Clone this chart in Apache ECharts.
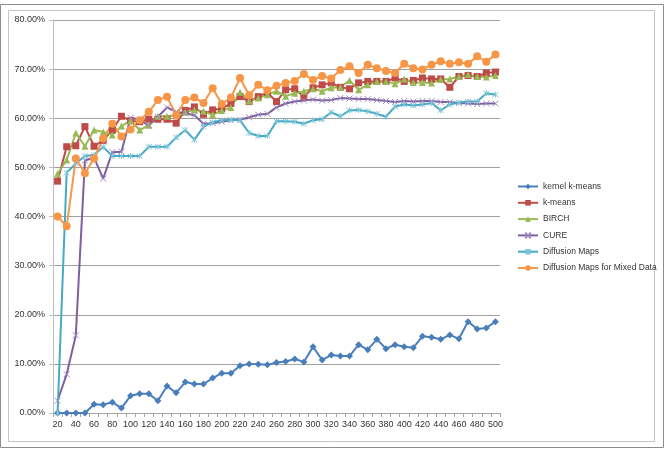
<!DOCTYPE html>
<html>
  <head>
    <meta charset="utf-8" />
    <script src="https://cdn.jsdelivr.net/npm/echarts@6/dist/echarts.min.js"></script>
    <style>
      html, body { margin: 0; padding: 0; background: #fff; }
    </style>
  </head>
  <body>
    <div id="chart" style="width: 666px; height: 459px;"></div>
    <script>
      // Data (accuracy in %)
      var categories = ['20','30','40','50','60','70','80','90','100','110','120','130','140','150','160','170','180','190','200',
        '210','220','230','240','250','260','270','280','290','300','310','320','330','340','350','360','370','380','390','400',
        '410','420','430','440','450','460','470','480','490','500'];

      var kernelKMeans = [0,0,0,0,1.8,1.7,2.2,1.0,3.5,3.9,3.9,2.5,5.5,4.1,6.3,5.9,5.9,7.1,8.1,8.1,9.6,10.0,9.9,
        9.8,10.3,10.5,11.0,10.4,13.5,10.8,11.8,11.6,11.6,13.9,12.9,15.0,13.1,13.9,13.5,13.3,15.6,15.4,15.0,15.9,15.1,18.6,17.1,17.3,18.6];

      var kMeans = [47.2,54.2,54.4,58.3,54.3,55.5,57.6,60.4,59.5,
        59.3,59.8,59.8,59.8,59.0,61.6,62.3,60.8,61.7,62.0,
        63.0,64.4,63.4,64.4,65.2,63.4,65.8,66.0,64.4,66.2,
        66.8,67.2,66.3,66.0,67.2,67.5,67.5,67.5,68.2,67.5,
        67.7,68.2,68.0,68.0,66.3,68.5,68.7,68.5,69.2,69.4];

      var birch = [48.7,51.5,57.0,54.3,57.6,57.2,56.6,58.4,59.5,
        57.6,58.6,60.4,60.4,60.6,61.2,61.7,61.4,60.7,61.6,
        62.2,65.3,63.5,64.1,64.8,65.5,64.5,65.1,65.5,66.0,
        65.5,66.2,66.3,67.7,65.8,66.8,67.5,67.5,67.0,68.0,
        67.3,67.3,67.2,67.9,68.0,68.5,68.9,68.5,68.4,68.7];

      var cure = [2.5,7.9,15.8,51.4,52.0,47.7,53.1,53.2,60.1,
        59.7,58.5,60.3,62.2,61.3,61.0,60.6,58.9,59.0,59.3,
        59.6,59.7,60.2,60.7,60.9,62.2,63.0,63.4,63.6,63.8,
        63.6,63.7,64.1,64.0,63.9,63.9,63.7,63.5,63.3,63.5,
        63.4,63.5,63.5,63.3,63.3,63.1,63.0,62.9,63.0,63.0];

      var diffusionMaps = [0,48.9,50.8,52.3,52.5,54.2,52.3,52.3,52.3,
        52.3,54.2,54.2,54.2,56.1,57.6,55.6,58.3,59.2,59.6,
        59.7,59.6,57.0,56.4,56.4,59.4,59.4,59.3,58.9,59.6,
        59.8,61.2,60.4,61.6,61.7,61.4,60.9,60.3,62.4,62.8,
        62.6,62.8,63.1,61.6,62.8,63.2,63.4,63.4,65.1,64.8];

      var diffusionMixed = [40.0,38.0,51.8,48.8,51.8,55.9,58.9,56.3,57.7,
        59.6,61.3,63.7,64.4,60.6,63.7,64.2,63.1,66.1,62.9,
        64.2,68.2,64.7,66.8,65.7,66.6,67.2,67.6,69.0,67.8,
        68.6,68.1,69.8,70.6,69.2,70.9,70.2,69.6,69.2,71.1,
        70.2,69.9,70.9,71.6,71.1,71.4,71.1,72.6,71.5,73.0];

      var seriesNames = ['kernel k-means', 'k-means', 'BIRCH', 'CURE', 'Diffusion Maps', 'Diffusion Maps for Mixed Data'];

      var font = 'Liberation Sans, Arial, sans-serif';
      var xMark = 'path://M0,0L10,10M10,0L0,10';
      var starMark = 'path://M0,0L10,10M10,0L0,10M5,-1L5,11';

      function makeSeries(name, data, color, symbol, size, markColor) {
        return {
          name: name,
          type: 'line',
          data: data,
          symbol: symbol,
          symbolSize: size,
          showAllSymbol: true,
          lineStyle: { color: color, width: 2 },
          itemStyle: {
            color: markColor || color,
            borderColor: markColor || color,
            borderWidth: (symbol.indexOf('path') === 0) ? 1 : 0
          },
          emphasis: { disabled: true }
        };
      }

      var chart = echarts.init(document.getElementById('chart'), null, { renderer: 'canvas' });

      chart.setOption({
        animation: false,
        backgroundColor: '#fff',
        textStyle: { fontFamily: font },
        graphic: [
          { type: 'rect', shape: { x: 0.5, y: 4.5, width: 663, height: 443 },
            style: { fill: 'none', stroke: '#8c8c8c', lineWidth: 1 }, z: -1 },
          { type: 'rect', shape: { x: 8.5, y: 10.5, width: 646, height: 431 },
            style: { fill: 'none', stroke: '#c4c4c4', lineWidth: 1 }, z: -1 }
        ],
        legend: {
          orient: 'vertical',
          left: 512,
          top: 177,
          itemWidth: 20,
          itemHeight: 7,
          itemGap: 7.3,
          data: seriesNames,
          textStyle: { fontSize: 8.5, color: '#333', fontFamily: font }
        },
        grid: { left: 53, right: 166, top: 20, bottom: 46, containLabel: false },
        xAxis: {
          type: 'category',
          data: categories,
          boundaryGap: true,
          axisLine: { lineStyle: { color: '#a6a6a6' } },
          axisTick: { show: true, interval: 0, length: 4, lineStyle: { color: '#a6a6a6' } },
          axisLabel: { interval: 1, fontSize: 9, color: '#333', margin: 7 }
        },
        yAxis: {
          type: 'value',
          min: 0,
          max: 80,
          interval: 10,
          axisLine: { show: true, lineStyle: { color: '#c0c0c0' } },
          axisTick: { show: true, length: 4, lineStyle: { color: '#c0c0c0' } },
          splitLine: { lineStyle: { color: '#a0a0a0', width: 1 } },
          axisLabel: {
            fontSize: 9, color: '#333', margin: 8,
            formatter: function (v) { return v.toFixed(2) + '%'; }
          }
        },
        series: [
          makeSeries(seriesNames[0], kernelKMeans, '#4A7EBB', 'diamond', 7),
          makeSeries(seriesNames[1], kMeans, '#BE4B48', 'rect', 7),
          makeSeries(seriesNames[2], birch, '#98B954', 'triangle', 7),
          makeSeries(seriesNames[3], cure, '#7D60A0', xMark, 6, '#A08CC4'),
          makeSeries(seriesNames[4], diffusionMaps, '#46AAC5', starMark, 6, '#7FC6DA'),
          makeSeries(seriesNames[5], diffusionMixed, '#F79646', 'circle', 8)
        ]
      });
    </script>
  </body>
</html>
